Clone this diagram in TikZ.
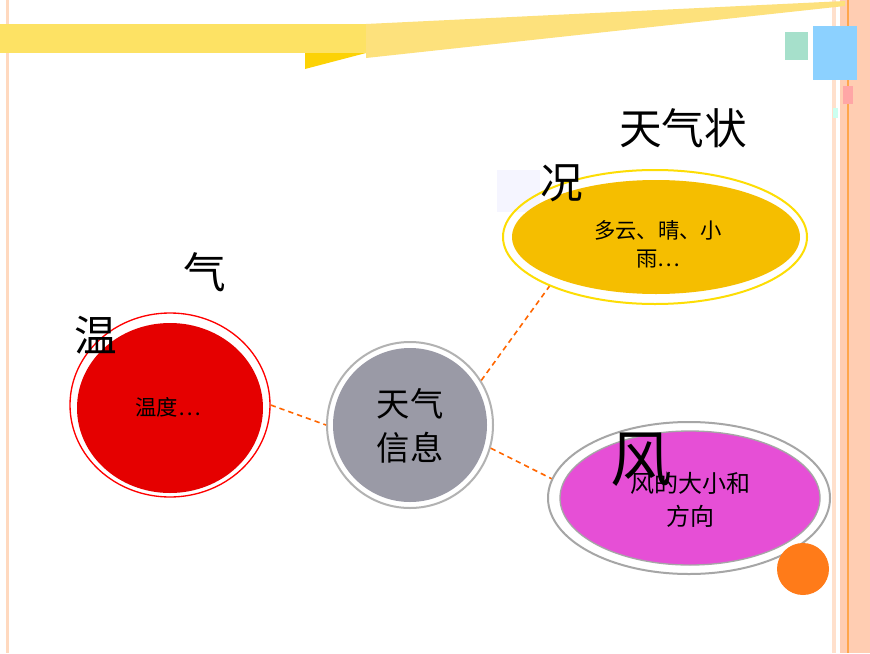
\documentclass[tikz,border=0pt]{standalone}
\usepackage{fontspec}
\usetikzlibrary{shapes.geometric}
\newfontfamily\cjk{Noto Sans CJK SC}
\definecolor{gfill}{HTML}{9A9AA6}
\definecolor{mfill}{HTML}{E64FD6}
\definecolor{yfill}{HTML}{F5BE00}
\begin{document}
\begin{tikzpicture}[x=0.75pt,y=-0.75pt,
  lbl/.style={font=\fontsize{16}{21}\selectfont\cjk,align=center},
  dl/.style={draw=orange!80!red,dash pattern=on 4pt off 3pt,line width=1.2pt}]
\useasboundingbox (0,0) rectangle (870,653);
\fill[white] (0,0) rectangle (870,653);
% borders
\fill[red!30!orange!30] (840,0) rectangle (870,653);
\fill[red!20!orange!20] (832,0) rectangle (836,653);
\draw[orange!70,line width=0.8pt] (848,0) -- (848,653);
\fill[red!20!orange!25] (6,0) rectangle (9,653);
% top band
\fill[yellow!60!orange!50] (366,24) -- (845,1) -- (845,6) -- (366,58) -- cycle;
\fill[yellow!70!orange!60] (0,24) rectangle (366,53);
\fill[yellow!70!orange] (305,53) -- (366,53) -- (305,69) -- cycle;
% squares
\fill[cyan!40!green!35] (785,32) rectangle (808,60);
\fill[blue!40!cyan!45] (813,26) rectangle (857,80);
\fill[red!35] (843,86) rectangle (853,104);
\fill[green!30!cyan!20] (833,108) rectangle (838,118);
\fill[blue!4] (497,170) rectangle (540,212);
% nodes
\node[circle,minimum size=166*0.75pt,draw=gray!60,line width=1.5pt] (c) at (410,425) {};
\fill[gfill] (410,425) circle (77);
\node[lbl,font=\fontsize{25}{33}\selectfont\cjk] (ct) at (410,426) {天气\\信息};
\node[ellipse,minimum width=200*0.75pt,minimum height=184*0.75pt,draw=red,line width=1pt] (r) at (170,405) {};
\fill[red!90!black] (170,408) ellipse (93 and 85);
\node[lbl] (rt) at (168,407) {温度…};
\node[ellipse,minimum width=304*0.75pt,minimum height=134*0.75pt,draw=yellow!80!orange,line width=1.5pt] (y) at (655,237) {};
\fill[yfill] (656,237) ellipse (144 and 57);
\node[lbl] (yt) at (658,244) {多云、晴、小\\雨…};
\node[ellipse,minimum width=282*0.75pt,minimum height=152*0.75pt,draw=gray!70,line width=1.5pt] (m) at (689,498) {};
\fill[mfill] (690,498) ellipse (130 and 67);
\draw[gray!70,line width=1pt] (690,498) ellipse (130 and 67);
\fill[orange!85!red!90] (803,569) circle (26);
% connectors
\draw[dl] (r.east) -- (c.west);
\draw[dl] (c.32) -- (y.205);
\draw[dl] (c.-16) -- (m.172);
% labels
\node[lbl,font=\fontsize{18}{25}\selectfont\cjk] (mt) at (690,500) {风的大小和\\方向};
\node[font=\fontsize{32}{32}\selectfont\cjk] (t1) at (683,128) {天气状};
\node[font=\fontsize{32}{32}\selectfont\cjk] (t2) at (562,183) {况};
\node[font=\fontsize{32}{32}\selectfont\cjk] (t3) at (205,272) {气};
\node[font=\fontsize{32}{32}\selectfont\cjk] (t4) at (96,335) {温};
\node[font=\fontsize{46}{46}\selectfont\cjk] (t5) at (641,460) {风};
\end{tikzpicture}
\end{document}
